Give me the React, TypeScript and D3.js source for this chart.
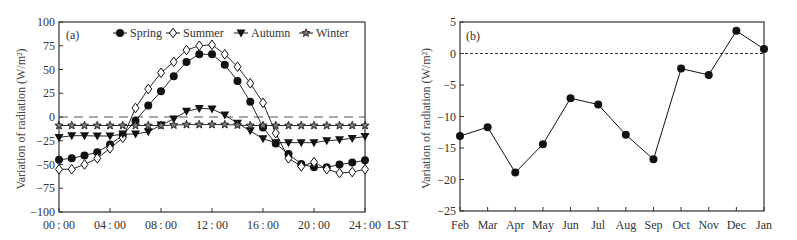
import React from "react";
import * as d3 from "d3";

const hours = d3.range(0, 25);
const spring = [-45, -43.5, -40.5, -37, -29, -19, -4, 12, 27, 43, 58, 66, 66, 55, 38, 16, -11, -28, -39, -49.5, -53, -53, -50, -48, -45.5];
const summer = [-55, -55, -50, -43.5, -33, -22, 9.5, 29.5, 46.5, 58, 70.5, 75, 76, 66, 53, 35.5, 15, -17, -43.5, -52, -47.5, -55, -59, -58, -55];
const autumn = [-21.5, -19.7, -19.7, -20, -20, -18, -18, -15.5, -8.5, -2, 6, 9, 8.5, 2, -6.5, -14.5, -23, -27, -27, -27, -27, -25, -24, -22.5, -20.5];
const winter = [-9, -9, -9, -9, -9, -9, -9, -9, -9, -8.5, -8, -8, -8, -8, -8.5, -9, -9, -9, -9, -9, -9, -9, -9, -9, -9];
const hourTicks = ["00:00", "04:00", "08:00", "12:00", "16:00", "20:00", "24:00"];
const yTicksA = [100, 75, 50, 25, 0, -25, -50, -75, -100];

const months = ["Feb", "Mar", "Apr", "May", "Jun", "Jul", "Aug", "Sep", "Oct", "Nov", "Dec", "Jan"];
const monthly = [-13.1, -11.7, -18.9, -14.4, -7.1, -8.1, -12.9, -16.8, -2.4, -3.4, 3.6, 0.7];
const yTicksB = [5, 0, -5, -10, -15, -20, -25];

const FONT = "'Liberation Serif', 'DejaVu Serif', serif";
const AX = "#333";
const FS = 12;
const fmt = (v: number) => (v < 0 ? "\u2212" + Math.abs(v) : String(v));
const fmtHour = (s: string) => s.replace(":", "\u2009:\u2009");

function Marker({ kind, x, y }: { kind: string; x: number; y: number }) {
  if (kind === "circle") return <circle cx={x} cy={y} r={4} fill="#111" />;
  if (kind === "diamond")
    return <path d={`M${x},${y - 4.8}L${x + 3.5},${y}L${x},${y + 4.8}L${x - 3.5},${y}Z`} fill="#fff" stroke="#111" strokeWidth={1} />;
  if (kind === "tri")
    return <path d={`M${x - 4.5},${y - 3.5}L${x + 4.5},${y - 3.5}L${x},${y + 4.5}Z`} fill="#111" />;
  const pts: string[] = [];
  for (let i = 0; i < 10; i++) {
    const r = i % 2 === 0 ? 4.3 : 1.9;
    const a = -Math.PI / 2 + (i * Math.PI) / 5;
    pts.push(`${x + r * Math.cos(a)},${y + r * Math.sin(a)}`);
  }
  return <polygon points={pts.join(" ")} fill="#777" stroke="#111" strokeWidth={0.8} />;
}

export default function App() {
  // Panel a
  const ax0 = 59, ax1 = 365, ay0 = 22, ay1 = 212;
  const xa = d3.scaleLinear().domain([0, 24]).range([ax0, ax1]);
  const ya = d3.scaleLinear().domain([-100, 100]).range([ay1, ay0]);
  const lineA = d3.line<number>().x((_, i) => xa(hours[i])).y((d) => ya(d));
  const series = [
    { name: "Spring", data: spring, kind: "circle" },
    { name: "Summer", data: summer, kind: "diamond" },
    { name: "Autumn", data: autumn, kind: "tri" },
    { name: "Winter", data: winter, kind: "star" },
  ];
  const legendX = [120, 173, 241, 306];

  // Panel b
  const bx0 = 460, bx1 = 764, by0 = 22, by1 = 211;
  const xb = d3.scalePoint<string>().domain(months).range([bx0, bx1]);
  const yb = d3.scaleLinear().domain([-25, 5]).range([by1, by0]);
  const lineB = d3.line<number>().x((_, i) => xb(months[i]) as number).y((d) => yb(d));

  return (
    <svg width={797} height={240} style={{ position: "absolute", left: 0, top: 0, background: "#fff" }} fontFamily={FONT}>
      {/* Panel a */}
      <line x1={ax0} x2={ax1} y1={ya(0)} y2={ya(0)} stroke="#555" strokeWidth={1.2} strokeDasharray="9,6" />
      <rect x={ax0} y={ay0} width={ax1 - ax0} height={ay1 - ay0} fill="none" stroke={AX} strokeWidth={1.2} />
      {yTicksA.map((t) => (
        <g key={t}>
          <line x1={ax0} x2={ax0 + 4} y1={ya(t)} y2={ya(t)} stroke={AX} />
          <text x={ax0 - 4} y={ya(t) + 4} textAnchor="end" fontSize={FS} fill="#333">{fmt(t)}</text>
        </g>
      ))}
      {hourTicks.map((t, i) => (
        <g key={t}>
          <line x1={xa(i * 4)} x2={xa(i * 4)} y1={ay1} y2={ay1 - 4} stroke={AX} />
          <text x={xa(i * 4)} y={229} textAnchor="middle" fontSize={FS} fill="#333">{fmtHour(t)}</text>
        </g>
      ))}
      <text x={387} y={229} fontSize={FS} fill="#333">LST</text>
      <text transform={`translate(25,${(ay0 + ay1) / 2 + 2}) rotate(-90)`} textAnchor="middle" fontSize={FS} fill="#444">Variation of radiation (W/m²)</text>
      <text x={66} y={39} fontSize={FS} fill="#333">(a)</text>
      {series.map((s) => (
        <g key={s.name}>
          <path d={lineA(s.data) || ""} fill="none" stroke="#111" strokeWidth={0.9} />
          {s.data.map((v, i) => (
            <Marker key={i} kind={s.kind} x={xa(hours[i])} y={ya(v)} />
          ))}
        </g>
      ))}
      {series.map((s, i) => (
        <g key={"lg" + s.name}>
          <line x1={legendX[i] - 7} x2={legendX[i] + 7} y1={33} y2={33} stroke="#111" />
          <Marker kind={s.kind} x={legendX[i]} y={33} />
          <text x={legendX[i] + 10} y={37} fontSize={FS} fill="#333">{s.name}</text>
        </g>
      ))}

      {/* Panel b */}
      <line x1={bx0} x2={bx1} y1={yb(0)} y2={yb(0)} stroke="#333" strokeWidth={1} strokeDasharray="3,2" />
      <rect x={bx0} y={by0} width={bx1 - bx0} height={by1 - by0} fill="none" stroke={AX} strokeWidth={1.2} />
      {yTicksB.map((t) => (
        <g key={t}>
          <line x1={bx0} x2={bx0 + 4} y1={yb(t)} y2={yb(t)} stroke={AX} />
          <text x={bx0 - 4} y={yb(t) + 4} textAnchor="end" fontSize={FS} fill="#333">{fmt(t)}</text>
        </g>
      ))}
      {months.map((m) => (
        <g key={m}>
          <line x1={xb(m)} x2={xb(m)} y1={by1} y2={by1 - 4} stroke={AX} />
          <text x={xb(m)} y={229} textAnchor="middle" fontSize={FS} fill="#333">{m}</text>
        </g>
      ))}
      <text transform={`translate(430,${(by0 + by1) / 2 + 2}) rotate(-90)`} textAnchor="middle" fontSize={FS} fill="#444">Variation of radiation (W/m²)</text>
      <text x={466} y={40} fontSize={FS} fill="#333">(b)</text>
      <path d={lineB(monthly) || ""} fill="none" stroke="#111" strokeWidth={1} />
      {monthly.map((v, i) => (
        <circle key={i} cx={xb(months[i])} cy={yb(v)} r={4} fill="#111" />
      ))}
    </svg>
  );
}
